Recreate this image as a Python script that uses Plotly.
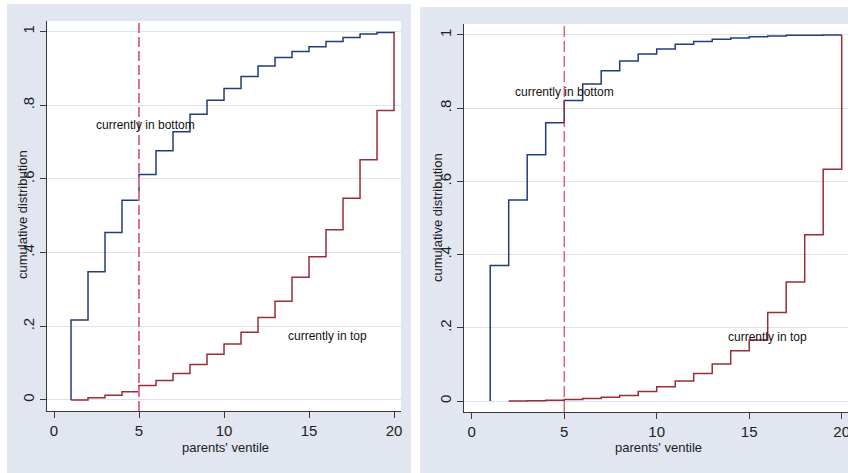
import plotly.graph_objects as go

W, H = 848, 473

# ---------------- data ----------------
ventile = list(range(1, 21))
left_bottom = [0.217, 0.348, 0.455, 0.542, 0.612, 0.677, 0.728, 0.776, 0.814, 0.846,
               0.878, 0.907, 0.930, 0.946, 0.959, 0.973, 0.984, 0.994, 0.998, 1.0]
left_top = [0.0, 0.006, 0.013, 0.022, 0.039, 0.053, 0.072, 0.096, 0.124, 0.152,
            0.184, 0.224, 0.268, 0.333, 0.389, 0.462, 0.548, 0.652, 0.786, 1.0]
right_bottom = [0.370, 0.549, 0.673, 0.760, 0.821, 0.866, 0.902, 0.929, 0.948, 0.962,
                0.975, 0.982, 0.988, 0.992, 0.995, 0.997, 0.999, 0.9995, 1.0, 1.0]
right_top_x = list(range(2, 21))
right_top = [0.0, 0.001, 0.002, 0.004, 0.007, 0.010, 0.015, 0.026, 0.039, 0.055,
             0.075, 0.101, 0.137, 0.167, 0.242, 0.325, 0.454, 0.633, 1.0]

x_ticks = [0, 5, 10, 15, 20]
y_ticks = [0, 0.2, 0.4, 0.6, 0.8, 1.0]
y_ticktext = ["0", ".2", ".4", ".6", ".8", "1"]
cutoff = 5

BLUE = "#1f3f7c"
RED = "#9a2d36"
BG = "#e1e6f0"
GRID = "#dde3ee"
AX = "#3a3a3a"
FONT = "Liberation Sans, Arial, sans-serif"


def px_x(p):
    return p / W


def px_y(p):
    return 1 - p / H


fig = go.Figure()

# left panel
fig.add_trace(go.Scatter(x=[ventile[0]] + ventile, y=[0] + left_bottom, mode="lines",
                         line=dict(color=BLUE, width=1.5, shape="hv"), xaxis="x", yaxis="y"))
fig.add_trace(go.Scatter(x=ventile, y=left_top, mode="lines",
                         line=dict(color=RED, width=1.5, shape="hv"), xaxis="x", yaxis="y"))
# right panel
fig.add_trace(go.Scatter(x=[ventile[0]] + ventile, y=[0] + right_bottom, mode="lines",
                         line=dict(color=BLUE, width=1.5, shape="hv"), xaxis="x2", yaxis="y2"))
fig.add_trace(go.Scatter(x=right_top_x, y=right_top, mode="lines",
                         line=dict(color=RED, width=1.5, shape="hv"), xaxis="x2", yaxis="y2"))

xaxis_common = dict(tickmode="array", tickvals=x_ticks, ticktext=[str(t) for t in x_ticks],
                    showgrid=False, zeroline=False, showline=True, linecolor=AX, linewidth=1,
                    ticks="outside", ticklen=6, tickcolor=AX, automargin=False,
                    ticklabeloverflow="allow",
                    tickfont=dict(family=FONT, size=15, color="#222"))
yaxis_common = dict(tickmode="array", tickvals=y_ticks, ticktext=y_ticktext,
                    showgrid=True, gridcolor=GRID, gridwidth=1, zeroline=False,
                    showline=True, linecolor=AX, linewidth=1, automargin=False,
                    ticklabeloverflow="allow",
                    ticks="outside", ticklen=6, tickcolor=AX, tickangle=-90,
                    tickfont=dict(family=FONT, size=15, color="#222"))

fig.update_layout(
    width=W, height=H,
    margin=dict(l=0, r=0, t=0, b=0, pad=0),
    paper_bgcolor="white", plot_bgcolor="white",
    showlegend=False,
    xaxis=dict(domain=[px_x(47), px_x(401)], range=[-0.412, 20.41], anchor="y", **xaxis_common),
    yaxis=dict(domain=[px_y(411), px_y(21)], range=[-0.030, 1.029], anchor="x", **yaxis_common),
    xaxis2=dict(domain=[px_x(464), 1.0], range=[-0.416, 20.34], anchor="y2", **xaxis_common),
    yaxis2=dict(domain=[px_y(412), px_y(24)], range=[-0.030, 1.030], anchor="x2", **yaxis_common),
)

shapes = [
    dict(type="rect", xref="paper", yref="paper", x0=px_x(7), x1=px_x(411), y0=0, y1=px_y(4),
         fillcolor=BG, line=dict(width=0), layer="below"),
    dict(type="rect", xref="paper", yref="paper", x0=px_x(420), x1=1.0, y0=0, y1=px_y(7),
         fillcolor=BG, line=dict(width=0), layer="below"),
    dict(type="rect", xref="x domain", yref="y domain", x0=0, x1=1, y0=0, y1=1,
         fillcolor="white", line=dict(width=0), layer="below"),
    dict(type="rect", xref="x2 domain", yref="y2 domain", x0=0, x1=1, y0=0, y1=1,
         fillcolor="white", line=dict(width=0), layer="below"),
    dict(type="line", xref="x", yref="y domain", x0=cutoff, x1=cutoff, y0=0, y1=1,
         line=dict(color="#dc7096", width=2, dash="10px,4px")),
    dict(type="line", xref="x2", yref="y2 domain", x0=cutoff, x1=cutoff, y0=0, y1=1,
         line=dict(color="#c4203f", width=1, dash="11px,4px")),
]
fig.update_layout(shapes=shapes)

lab_font = dict(family=FONT, size=12, color="#111")
ax_font = dict(family=FONT, size=13, color="#222")
C = dict(xanchor="center", yanchor="middle", showarrow=False)
annotations = [
    dict(text="currently in bottom", x=5.4, y=0.747, xref="x", yref="y", font=lab_font, **C),
    dict(text="currently in top", x=16.06, y=0.174, xref="x", yref="y", font=lab_font, **C),
    dict(text="currently in bottom", x=5.04, y=0.845, xref="x2", yref="y2", font=lab_font, **C),
    dict(text="currently in top", x=16.0, y=0.176, xref="x2", yref="y2", font=lab_font, **C),
    dict(text="cumulative distribution", x=px_x(22), y=px_y(215), xref="paper", yref="paper",
         textangle=-90, font=ax_font, **C),
    dict(text="cumulative distribution", x=px_x(437), y=px_y(218), xref="paper", yref="paper",
         textangle=-90, font=ax_font, **C),
    dict(text="parents' ventile", x=px_x(225), y=px_y(447), xref="paper", yref="paper",
         font=ax_font, **C),
    dict(text="parents' ventile", x=px_x(658), y=px_y(447), xref="paper", yref="paper",
         font=ax_font, **C),
]
fig.update_layout(annotations=annotations)

fig.write_html("out.html", config={"displayModeBar": False},
               post_script="document.body.style.margin='0';document.body.style.overflow='hidden';")
